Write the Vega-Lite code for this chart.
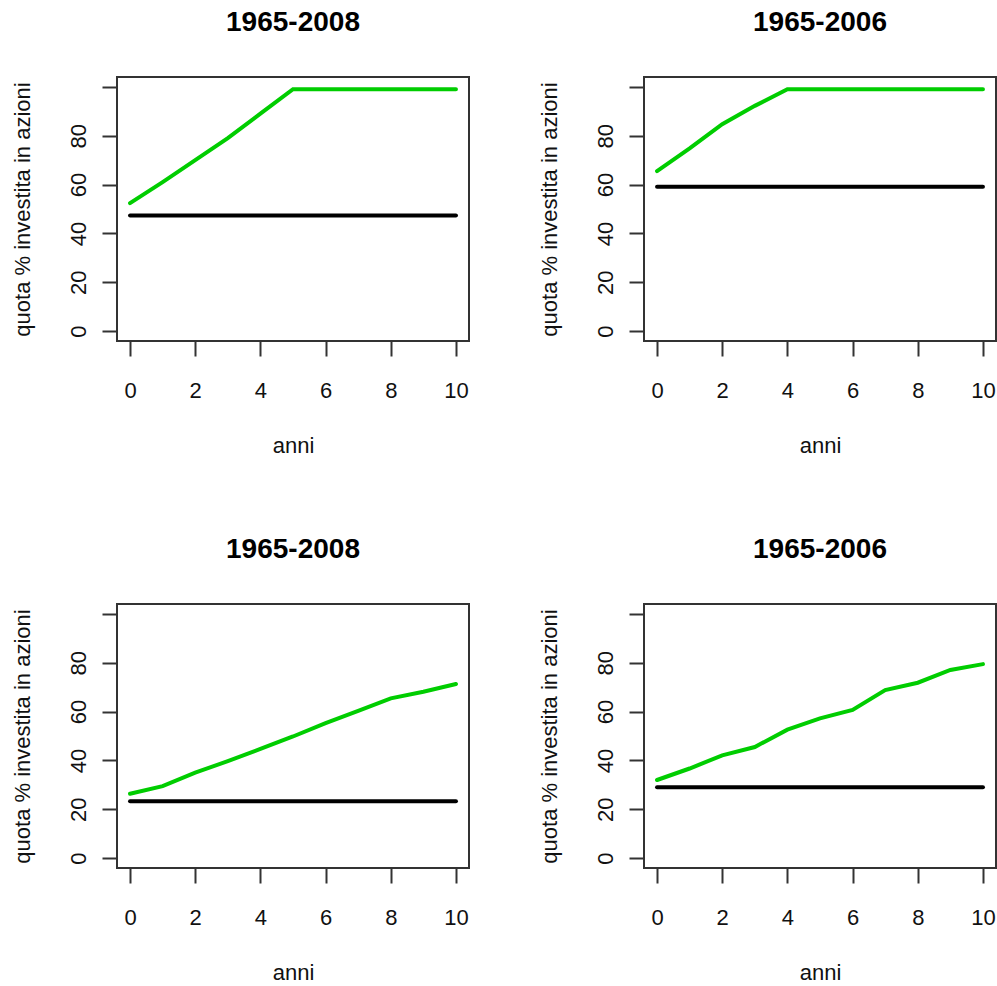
{
  "$schema": "https://vega.github.io/schema/vega-lite/v6.json",
  "autosize": {"type": "pad"},
  "padding": {"left": 10, "top": 8, "right": 0, "bottom": 0},
  "background": "white",
  "data": {
    "values": [
      {"panel": 1, "serie": "azioni", "anni": 0, "quota": 52.4},
      {"panel": 1, "serie": "azioni", "anni": 1, "quota": 61},
      {"panel": 1, "serie": "azioni", "anni": 2, "quota": 70},
      {"panel": 1, "serie": "azioni", "anni": 3, "quota": 79},
      {"panel": 1, "serie": "azioni", "anni": 4, "quota": 89},
      {"panel": 1, "serie": "azioni", "anni": 5, "quota": 99},
      {"panel": 1, "serie": "azioni", "anni": 6, "quota": 99},
      {"panel": 1, "serie": "azioni", "anni": 7, "quota": 99},
      {"panel": 1, "serie": "azioni", "anni": 8, "quota": 99},
      {"panel": 1, "serie": "azioni", "anni": 9, "quota": 99},
      {"panel": 1, "serie": "azioni", "anni": 10, "quota": 99},
      {"panel": 1, "serie": "costante", "anni": 0, "quota": 47.3},
      {"panel": 1, "serie": "costante", "anni": 10, "quota": 47.3},
      {"panel": 2, "serie": "azioni", "anni": 0, "quota": 65.5},
      {"panel": 2, "serie": "azioni", "anni": 1, "quota": 74.8},
      {"panel": 2, "serie": "azioni", "anni": 2, "quota": 84.7},
      {"panel": 2, "serie": "azioni", "anni": 3, "quota": 92.2},
      {"panel": 2, "serie": "azioni", "anni": 4, "quota": 99},
      {"panel": 2, "serie": "azioni", "anni": 5, "quota": 99},
      {"panel": 2, "serie": "azioni", "anni": 6, "quota": 99},
      {"panel": 2, "serie": "azioni", "anni": 7, "quota": 99},
      {"panel": 2, "serie": "azioni", "anni": 8, "quota": 99},
      {"panel": 2, "serie": "azioni", "anni": 9, "quota": 99},
      {"panel": 2, "serie": "azioni", "anni": 10, "quota": 99},
      {"panel": 2, "serie": "costante", "anni": 0, "quota": 59.1},
      {"panel": 2, "serie": "costante", "anni": 10, "quota": 59.1},
      {"panel": 3, "serie": "azioni", "anni": 0, "quota": 26.4},
      {"panel": 3, "serie": "azioni", "anni": 1, "quota": 29.5},
      {"panel": 3, "serie": "azioni", "anni": 2, "quota": 35},
      {"panel": 3, "serie": "azioni", "anni": 3, "quota": 39.7},
      {"panel": 3, "serie": "azioni", "anni": 4, "quota": 44.7},
      {"panel": 3, "serie": "azioni", "anni": 5, "quota": 49.8},
      {"panel": 3, "serie": "azioni", "anni": 6, "quota": 55.3},
      {"panel": 3, "serie": "azioni", "anni": 7, "quota": 60.3},
      {"panel": 3, "serie": "azioni", "anni": 8, "quota": 65.4},
      {"panel": 3, "serie": "azioni", "anni": 9, "quota": 68.1},
      {"panel": 3, "serie": "azioni", "anni": 10, "quota": 71.3},
      {"panel": 3, "serie": "costante", "anni": 0, "quota": 23.3},
      {"panel": 3, "serie": "costante", "anni": 10, "quota": 23.3},
      {"panel": 4, "serie": "azioni", "anni": 0, "quota": 32},
      {"panel": 4, "serie": "azioni", "anni": 1, "quota": 36.7},
      {"panel": 4, "serie": "azioni", "anni": 2, "quota": 42.1},
      {"panel": 4, "serie": "azioni", "anni": 3, "quota": 45.5},
      {"panel": 4, "serie": "azioni", "anni": 4, "quota": 52.6},
      {"panel": 4, "serie": "azioni", "anni": 5, "quota": 57.2},
      {"panel": 4, "serie": "azioni", "anni": 6, "quota": 60.7},
      {"panel": 4, "serie": "azioni", "anni": 7, "quota": 68.8},
      {"panel": 4, "serie": "azioni", "anni": 8, "quota": 71.8},
      {"panel": 4, "serie": "azioni", "anni": 9, "quota": 77},
      {"panel": 4, "serie": "azioni", "anni": 10, "quota": 79.4},
      {"panel": 4, "serie": "costante", "anni": 0, "quota": 29},
      {"panel": 4, "serie": "costante", "anni": 10, "quota": 29}
    ]
  },
  "columns": 2,
  "bounds": "flush",
  "spacing": {"column": 175, "row": 263},
  "concat": [
    {
      "title": {"text": "1965-2008"},
      "width": 352, "height": 264,
      "transform": [{"filter": "datum.panel == 1"}],
      "mark": {"type": "line", "strokeWidth": 4, "strokeCap": "round"},
      "encoding": {
        "x": {"field": "anni", "type": "quantitative", "title": "anni", "scale": {"domain": [-0.4, 10.4], "nice": false, "zero": false}, "axis": {"values": [0, 2, 4, 6, 8, 10]}},
        "y": {"field": "quota", "type": "quantitative", "title": "quota % investita in azioni", "scale": {"domain": [-4, 104], "nice": false, "zero": false}, "axis": {"values": [0, 20, 40, 60, 80, 100]}},
        "color": {"field": "serie", "type": "nominal", "scale": {"domain": ["azioni", "costante"], "range": ["#00CD00", "#000000"]}, "legend": null}
      }
    },
    {
      "title": {"text": "1965-2006"},
      "width": 352, "height": 264,
      "transform": [{"filter": "datum.panel == 2"}],
      "mark": {"type": "line", "strokeWidth": 4, "strokeCap": "round"},
      "encoding": {
        "x": {"field": "anni", "type": "quantitative", "title": "anni", "scale": {"domain": [-0.4, 10.4], "nice": false, "zero": false}, "axis": {"values": [0, 2, 4, 6, 8, 10]}},
        "y": {"field": "quota", "type": "quantitative", "title": "quota % investita in azioni", "scale": {"domain": [-4, 104], "nice": false, "zero": false}, "axis": {"values": [0, 20, 40, 60, 80, 100]}},
        "color": {"field": "serie", "type": "nominal", "scale": {"domain": ["azioni", "costante"], "range": ["#00CD00", "#000000"]}, "legend": null}
      }
    },
    {
      "title": {"text": "1965-2008"},
      "width": 352, "height": 264,
      "transform": [{"filter": "datum.panel == 3"}],
      "mark": {"type": "line", "strokeWidth": 4, "strokeCap": "round"},
      "encoding": {
        "x": {"field": "anni", "type": "quantitative", "title": "anni", "scale": {"domain": [-0.4, 10.4], "nice": false, "zero": false}, "axis": {"values": [0, 2, 4, 6, 8, 10]}},
        "y": {"field": "quota", "type": "quantitative", "title": "quota % investita in azioni", "scale": {"domain": [-4, 104], "nice": false, "zero": false}, "axis": {"values": [0, 20, 40, 60, 80, 100]}},
        "color": {"field": "serie", "type": "nominal", "scale": {"domain": ["azioni", "costante"], "range": ["#00CD00", "#000000"]}, "legend": null}
      }
    },
    {
      "title": {"text": "1965-2006"},
      "width": 352, "height": 264,
      "transform": [{"filter": "datum.panel == 4"}],
      "mark": {"type": "line", "strokeWidth": 4, "strokeCap": "round"},
      "encoding": {
        "x": {"field": "anni", "type": "quantitative", "title": "anni", "scale": {"domain": [-0.4, 10.4], "nice": false, "zero": false}, "axis": {"values": [0, 2, 4, 6, 8, 10]}},
        "y": {"field": "quota", "type": "quantitative", "title": "quota % investita in azioni", "scale": {"domain": [-4, 104], "nice": false, "zero": false}, "axis": {"values": [0, 20, 40, 60, 80, 100]}},
        "color": {"field": "serie", "type": "nominal", "scale": {"domain": ["azioni", "costante"], "range": ["#00CD00", "#000000"]}, "legend": null}
      }
    }
  ],
  "resolve": {"scale": {"x": "independent", "y": "independent", "color": "independent"}},
  "config": {
    "font": "Liberation Sans",
    "view": {"stroke": "#333333", "strokeWidth": 2},
    "title": {"font": "Liberation Sans", "fontSize": 28, "fontWeight": "bold", "color": "#000000", "anchor": "middle", "frame": "group", "baseline": "alphabetic", "offset": 40},
    "axis": {"grid": false, "domain": false, "tickSize": 15, "tickColor": "#333333", "tickWidth": 2, "labelFont": "Liberation Sans", "labelFontSize": 22, "labelColor": "#111111", "titleFont": "Liberation Sans", "titleFontSize": 22, "titleFontWeight": "normal", "titleColor": "#111111"},
    "axisX": {"labelPadding": 41.6, "labelBaseline": "alphabetic", "labelAlign": "center", "labelFlush": false, "labelOverlap": false, "titleX": 176, "titleY": 111.6, "titleBaseline": "alphabetic", "titleAlign": "center"},
    "axisY": {"labelExpr": "datum.value == 100 ? '' : datum.label", "labelAngle": 270, "labelAlign": "center", "labelBaseline": "alphabetic", "labelPadding": 17, "labelFlush": false, "labelOverlap": false, "titleAngle": 270, "titleX": -87.4, "titleY": 132, "titleBaseline": "alphabetic", "titleAlign": "center"}
  }
}
